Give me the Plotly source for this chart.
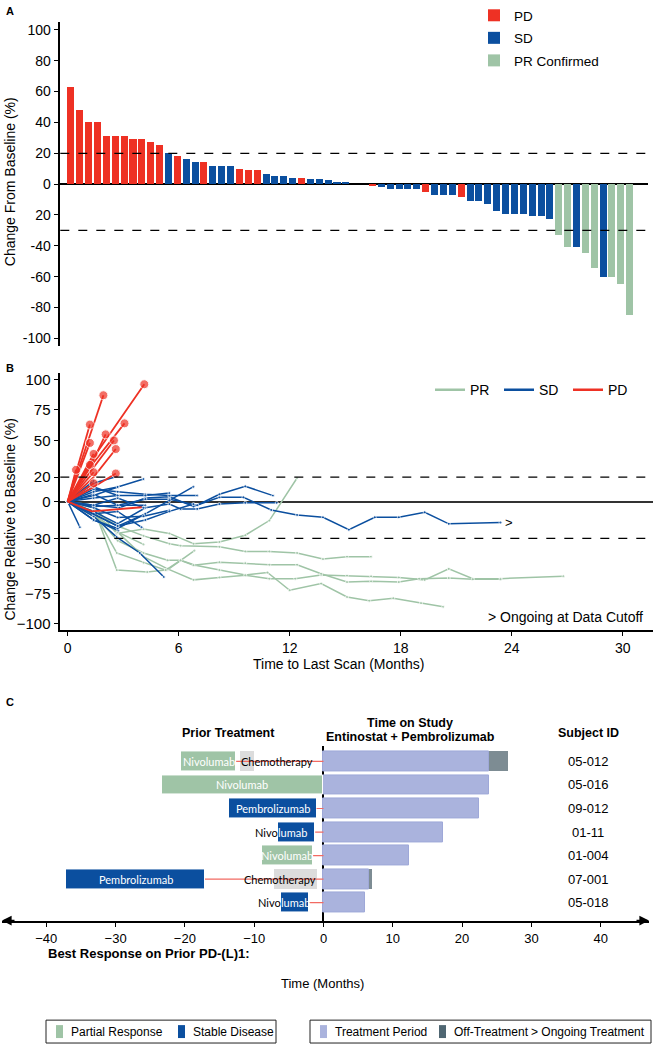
import plotly.graph_objects as go

W, H = 653, 1050

# ---------------- Panel A: waterfall of best change from baseline ----------------
waterfall_change = [63, 48, 40, 40, 31, 31, 31, 29, 29, 27, 25, 20, 18, 16.5, 14.5, 14.5,
                    11.5, 11.5, 11.5, 10, 9, 9, 6.5, 5, 5, 4, 4, 3, 3, 2.4, 1.5, 1, 0, 0,
                    -1.3, -2, -3.5, -3.5, -3.5, -3.5, -5.5, -7, -7, -7, -8.5, -11, -11, -13,
                    -17.5, -19.5, -19.5, -19.5, -21, -21, -22.5, -33, -41, -41, -45, -54.5,
                    -60, -60.5, -65, -85]
waterfall_response = ["PD", "PD", "PD", "PD", "PD", "PD", "PD", "PD", "PD", "PD", "PD",
                      "SD", "PD", "SD", "SD", "PD", "SD", "SD", "SD", "PD", "PD", "PD",
                      "SD", "SD", "SD", "SD", "PD", "SD", "SD", "SD", "SD", "SD", "SD", "SD",
                      "PD", "SD", "SD", "SD", "SD", "SD", "PD", "SD", "SD", "SD", "PD",
                      "SD", "SD", "SD", "SD", "SD", "SD", "SD", "SD", "SD", "SD",
                      "PR", "PR", "SD", "PR", "PR", "SD", "PR", "PR", "PR"]
waterfall_ticks = [100, 80, 60, 40, 20, 0, -20, -40, -60, -80, -100]
waterfall_ticktext = ["100", "80", "60", "40", "20", "0", "20", "-40", "-60", "-80", "-100"]
waterfall_thresholds = [20, -30]

# ---------------- Panel B: spider plot ----------------
pr_months = [
    [0, 1.4, 2.65, 4.1, 5.5, 6.8, 8.2, 9.6, 10.9, 12.4],
    [0, 1.4, 2.7, 4.1, 5.5, 6.1, 8.2, 9.6, 10.9, 12.4, 13.8, 15.1, 16.4],
    [0, 1.4, 2.65, 4.3, 5.4, 6.85],
    [0, 1.4, 2.7, 4.1, 5.4, 6.1, 6.9, 8.2, 9.6, 10.8, 12.0, 13.7, 15.1, 16.3, 17.6, 19.1, 20.3],
    [0, 1.4, 2.7, 4.1, 5.4, 6.8, 8.2, 9.6, 10.9, 12.3, 13.7, 15.1, 16.4, 17.9, 19.3, 20.6, 21.9, 23.4, 26.8],
    [0, 1.4, 2.65, 4.1, 5.3, 6.1, 6.8, 8.2, 9.6, 10.9, 12.4, 13.7, 15.1, 16.4, 17.9, 19.0, 20.6, 21.9, 23.4],
    [0, 0.7, 1.4, 2.7, 4.1],
]
pr_values = [
    [0, -3, -26, -22.5, -26, -34.5, -33, -27.5, -15.5, 19.3],
    [0, -8, -20, -28, -34.5, -36, -37, -40.7, -40.7, -42, -47, -45, -45],
    [0, -5, -56, -57.6, -55.7, -40],
    [0, -10, -32, -42, -48, -48, -52, -56, -60, -58, -72.5, -67, -78, -81, -79, -83, -86],
    [0, -12, -25, -45, -55, -64, -62, -60.3, -63, -63, -60, -60.5, -61, -62, -64, -55, -63, -63, -61],
    [0, -8, -42, -50, -56, -48, -52, -49.5, -50.3, -51.6, -51.6, -59, -65.8, -65.2, -65.8, -63, -62.5, -63.5, -63.5],
    [0, -3, -10, -25, -35],
]
sd_months = [
    [0, 1.4, 2.8, 4.2, 5.5, 6.8, 8.2, 9.5, 11.0, 12.4, 13.8, 15.2, 16.6, 17.9, 19.3, 20.6, 23.4],
    [0, 1.4, 2.7, 4.2, 5.5, 7.0, 8.2, 9.6, 11.1],
    [0, 1.4, 2.7, 4.2, 5.5, 6.1, 7.0, 8.2, 9.6, 11.3],
    [0, 1.4, 2.7, 4.2, 5.5, 7.0],
    [0, 1.4, 2.7, 4.2, 5.5, 6.8],
    [0, 1.4, 2.65, 3.9, 5.2],
    [0, 0.66],
    [0, 1.4, 2.74],
    [0, 1.4, 2.7, 4.0],
    [0, 1.4, 2.7, 4.1],
    [0, 1.4, 2.65],
    [0, 1.4, 2.7, 4.2, 5.5],
    [0, 1.4, 2.7, 4.2],
    [0, 1.4, 2.7, 4.2],
    [0, 1.4, 2.7],
    [0, 1.4, 2.7, 4.1, 5.5],
    [0, 1.4],
    [0, 1.4, 2.7, 4.1],
    [0, 2.7, 4.2, 5.5, 6.8],
    [0, 1.4, 2.7],
]
sd_values = [
    [0, -3, -5, 3, 4, -4, 3.5, 3.5, -6.8, -10.9, -12.8, -23, -12.8, -12.8, -8.7, -18.2, -17.1],
    [0, 6, -3, 2, 2, -3, 6, 12.5, 4.9],
    [0, -8, -18, -5, -2, -6, -6, -2, -1, -1],
    [0, 10, 8, 6, 5, 5],
    [0, -10, -20, -10, 1, 12.2],
    [0, -12, -29, -42, -61.7],
    [0, -21],
    [0, -15, -23.6],
    [0, -10, -8, -21],
    [0, 8, 12, 18.5],
    [0, 15, 20.6],
    [0, 3, 5, 5, 7],
    [0, -4, -3, -3],
    [0, -15, -22, -10],
    [0, 5, 12],
    [0, -5, -13, -12, -7],
    [0, 17],
    [0, -3, 3, -5],
    [0, -20, -15, -8, -2],
    [0, 12, 5],
]
pd_months = [
    [0, 1.35, 4.14], [0, 1.93], [0, 1.3, 3.07], [0, 1.2], [0, 1.2, 2.05], [0, 1.2],
    [0, 1.3, 2.5], [0, 1.4, 2.6], [0, 1.4], [0, 0.45], [0, 1.2], [0, 1.4],
    [0, 1.4, 2.6], [0, 1.3, 4.0], [0, 1.4],
]
pd_values = [
    [0, 35, 96], [0, 87], [0, 30, 64], [0, 63], [0, 28, 55], [0, 48],
    [0, 26, 50], [0, 20, 43], [0, 39], [0, 26], [0, 30], [0, 24],
    [0, 12, 23], [0, -8, -4.6], [0, 15],
]
spider_ticks_x = [0, 6, 12, 18, 24, 30]
spider_ticks_y = [100, 75, 50, 20, 0, -30, -50, -75, -100]
spider_thresholds = [20, -30]

# ---------------- Panel C: swimmer plot ----------------
subject_ids = ["05-012", "05-016", "09-012", "01-11", "01-004", "07-001", "05-018"]
prior_drug = ["Nivolumab", "Nivolumab", "Pembrolizumab", "Nivolumab", "Nivolumab", "Pembrolizumab", "Nivolumab"]
prior_response = ["PR", "PR", "SD", "SD", "PR", "SD", "SD"]
prior_start = [-20.5, -23.3, -13.7, -6.5, -8.9, -37.1, -6.1]
prior_end = [-12.6, -0.1, -1.0, -1.2, -1.5, -17.1, -2.1]
chemo_start = [-12.0, None, None, None, None, -7.1, None]
chemo_end = [-10.0, None, None, None, None, -1.0, None]
study_end = [23.9, 23.9, 22.4, 17.3, 12.4, 6.6, 6.0]
off_end = [26.6, None, None, None, None, 7.0, None]
swimmer_ticks = [-40, -30, -20, -10, 0, 10, 20, 30, 40]

RED = "#ee3124"
BLUE = "#0b4f9f"
GREEN = "#9fc4a6"
LAV = "#aab3dd"
OFF = "#7d8c93"
CHEMO = "#dcdcdc"
CONNECT = "#f26a62"
FONT = "Arial, Liberation Sans, sans-serif"
LABFONT = "Lato, Open Sans, sans-serif"


def px(x):
    return x / W


def py(y):
    return 1 - y / H


def pann(text, x, y, xa="center", ya="middle", size=13, **kw):
    d = dict(text=text, x=px(x), y=py(y), xref="paper", yref="paper", xanchor=xa, yanchor=ya,
             showarrow=False, font=dict(size=size, family=FONT, color="black"))
    d.update(kw)
    return d


fig = go.Figure()

# ---- Panel A bars ----
for key, name, color in [("PD", "PD", RED), ("SD", "SD", BLUE), ("PR", "PR Confirmed", GREEN)]:
    xs = [i + 1 for i, r in enumerate(waterfall_response) if r == key]
    ys = [waterfall_change[i - 1] for i in xs]
    fig.add_trace(go.Bar(x=xs, y=ys, marker=dict(color=color, line=dict(width=0)), width=0.79,
                         name=name, legend="legend", legendgroup=name, xaxis="x", yaxis="y"))

# ---- Panel B lines ----
groups = [("PR", GREEN, pr_months, pr_values), ("SD", BLUE, sd_months, sd_values), ("PD", RED, pd_months, pd_values)]
for name, color, months, values in groups:
    for mx, vy in zip(months, values):
        sizes = [3] * len(mx)
        width = 1.5
        if name == "PD":
            width = 1.8
            sizes = [0] * len(mx)
            if vy[-1] > 0:
                sizes[-1] = 9
        fig.add_trace(go.Scatter(x=mx, y=vy, mode="lines+markers", xaxis="x2", yaxis="y2",
                                 line=dict(color=color, width=width), marker=dict(color=color, size=sizes),
                                 showlegend=False, legend="legend2", hoverinfo="skip"))
for name, color, _, _ in groups:
    fig.add_trace(go.Scatter(x=[None], y=[None], mode="lines", line=dict(color=color, width=2.5),
                             name=name, legend="legend2", xaxis="x2", yaxis="y2", showlegend=True))

# ---- Panel C bars ----
fig.add_trace(go.Bar(orientation="h", y=subject_ids, x=study_end, base=[0] * len(subject_ids),
                     marker=dict(color=LAV, line=dict(color="#9ea8d8", width=1)), width=0.845,
                     xaxis="x3", yaxis="y3", showlegend=False, name="Treatment Period"))
off_rows = [i for i, v in enumerate(off_end) if v is not None]
fig.add_trace(go.Bar(orientation="h", y=[subject_ids[i] for i in off_rows],
                     x=[off_end[i] - study_end[i] for i in off_rows],
                     base=[study_end[i] for i in off_rows],
                     marker=dict(color=OFF, line=dict(width=0)), width=0.845,
                     xaxis="x3", yaxis="y3", showlegend=False, name="Off-Treatment"))
for key, color in [("PR", GREEN), ("SD", BLUE)]:
    rows = [i for i, r in enumerate(prior_response) if r == key]
    fig.add_trace(go.Bar(orientation="h", y=[subject_ids[i] for i in rows],
                         x=[prior_end[i] - prior_start[i] for i in rows],
                         base=[prior_start[i] for i in rows],
                         marker=dict(color=color, line=dict(color="white", width=1)), width=0.845,
                         xaxis="x3", yaxis="y3", showlegend=False))
chemo_rows = [i for i, v in enumerate(chemo_start) if v is not None]
fig.add_trace(go.Bar(orientation="h", y=[subject_ids[i] for i in chemo_rows],
                     x=[chemo_end[i] - chemo_start[i] for i in chemo_rows],
                     base=[chemo_start[i] for i in chemo_rows],
                     marker=dict(color=CHEMO, line=dict(width=0)), width=0.845,
                     xaxis="x3", yaxis="y3", showlegend=False, name="Chemotherapy"))
cx, cy = [], []
for i, sid in enumerate(subject_ids):
    if prior_end[i] < -0.5:
        cx += [prior_end[i], 0, None]
        cy += [sid, sid, None]
fig.add_trace(go.Scatter(x=cx, y=cy, mode="lines", line=dict(color=CONNECT, width=1.2),
                         xaxis="x3", yaxis="y3", showlegend=False, hoverinfo="skip"))

ann = []
# panel letters
for letter, y in [("A", 8), ("B", 367), ("C", 702)]:
    ann.append(pann("<b>" + letter + "</b>", 4, y, xa="left", size=11))
# axis titles
ann.append(pann("Change From Baseline (%)", 10, 180, size=14, textangle=-90))
ann.append(pann("Change Relative to Baseline (%)", 10, 519, size=14, textangle=-90))
ann.append(pann("Time to Last Scan (Months)", 338, 664, size=14))
ann.append(pann("> Ongoing at Data Cutoff", 645, 617, xa="right", size=14))
ann.append(dict(text=">", x=sd_months[0][-1], y=sd_values[0][-1], xref="x2", yref="y2", xanchor="left",
                yanchor="middle", xshift=2, showarrow=False, font=dict(size=13)))
# panel C headers
ann.append(pann("<b>Prior Treatment</b>", 228, 733, size=12.5))
ann.append(pann("<b>Time on Study</b>", 410, 723, size=12.5))
ann.append(pann("<b>Entinostat + Pembrolizumab</b>", 410, 738, size=12.5))
ann.append(pann("<b>Subject ID</b>", 588, 733, size=12.5))
ann.append(pann("<b>Best Response on Prior PD-(L)1:</b>", 46, 955, xa="left", size=13))
ann.append(pann("Time (Months)", 322, 985, size=13))
for i, sid in enumerate(subject_ids):
    ann.append(dict(text=sid, x=38.2, y=sid, xref="x3", yref="y3", xanchor="center", yanchor="middle",
                    showarrow=False, font=dict(size=13)))
    name = prior_drug[i]
    mid = (prior_start[i] + prior_end[i]) / 2
    if prior_end[i] - prior_start[i] < 6:
        ann.append(dict(text=name[:4], x=prior_start[i], y=sid, xref="x3", yref="y3", xanchor="right",
                        yanchor="middle", borderpad=0, xshift=1, showarrow=False,
                        font=dict(size=11, color="black", family=LABFONT)))
        ann.append(dict(text=name[4:], x=prior_start[i], y=sid, xref="x3", yref="y3", xanchor="left",
                        yanchor="middle", borderpad=0, xshift=-1, showarrow=False,
                        font=dict(size=11, color="white", family=LABFONT)))
    else:
        ann.append(dict(text=name, x=mid, y=sid, xref="x3", yref="y3", xanchor="center", yanchor="middle",
                        showarrow=False, font=dict(size=11, color="white", family=LABFONT)))
    if chemo_start[i] is not None:
        if chemo_end[i] > -2:
            ann.append(dict(text="Chemotherapy", x=chemo_end[i], y=sid, xref="x3", yref="y3", xanchor="right",
                            yanchor="middle", borderpad=0, showarrow=False,
                            font=dict(size=11, color="black", family=LABFONT)))
        else:
            ann.append(dict(text="Chemotherapy", x=chemo_start[i], y=sid, xref="x3", yref="y3", xanchor="left",
                            yanchor="middle", borderpad=0, showarrow=False,
                            font=dict(size=11, color="black", family=LABFONT)))
# axis arrows for panel C
ann.append(dict(text="", x=-46.39, y=0, xref="x3", yref="y3 domain", ax=14, ay=0, axref="pixel", ayref="pixel",
                showarrow=True, arrowhead=2, arrowsize=1.2, arrowwidth=1.6, arrowcolor="black"))
ann.append(dict(text="", x=46.97, y=0, xref="x3", yref="y3 domain", ax=-14, ay=0, axref="pixel", ayref="pixel",
                showarrow=True, arrowhead=2, arrowsize=1.2, arrowwidth=1.6, arrowcolor="black"))

shapes = []
for t in waterfall_thresholds:
    shapes.append(dict(type="line", xref="x domain", yref="y", x0=0, x1=1, y0=t, y1=t,
                       line=dict(color="black", width=1.3, dash="dash")))
for t in spider_thresholds:
    shapes.append(dict(type="line", xref="x2 domain", yref="y2", x0=0, x1=1, y0=t, y1=t,
                       line=dict(color="black", width=1.3, dash="dash")))

# bottom legends for panel C (drawn boxes)
box_y0, box_y1 = 1022, 1045
legend_items = [
    (46, 276, [(56, GREEN, "Partial Response"), (178, BLUE, "Stable Disease")]),
    (310, 651, [(320, LAV, "Treatment Period"), (439, "#4f6672", "Off-Treatment"), (None, None, "> Ongoing Treatment")]),
]
for x0, x1, items in legend_items:
    shapes.append(dict(type="rect", xref="paper", yref="paper", x0=px(x0), x1=px(x1), y0=py(box_y1), y1=py(box_y0),
                       line=dict(color="#222", width=1), fillcolor="rgba(0,0,0,0)"))
    for sx, col, label in items:
        if sx is not None:
            shapes.append(dict(type="rect", xref="paper", yref="paper", x0=px(sx), x1=px(sx + 7),
                               y0=py(1040), y1=py(1027), line=dict(width=0), fillcolor=col))
            tx = sx + 13
        else:
            tx = 529
        ann.append(pann(label, tx, 1033.5, xa="left", size=12))

axis_common = dict(showgrid=False, linecolor="black", tickcolor="black", ticks="outside")
fig.update_layout(
    width=W, height=H, margin=dict(l=0, r=0, t=0, b=0),
    paper_bgcolor="white", plot_bgcolor="rgba(0,0,0,0)",
    barmode="overlay", bargap=0,
    font=dict(family=FONT, size=13, color="black"),
    xaxis=dict(domain=[px(60.3), px(648)], range=[-0.23, 66.03], visible=False, anchor="y"),
    yaxis=dict(domain=[py(344.75), py(19.25)], range=[-105, 105], anchor="x", showline=True, linewidth=1.5,
               ticklen=5, tickvals=waterfall_ticks, ticktext=waterfall_ticktext, tickfont=dict(size=14),
               zeroline=True, zerolinecolor="black", zerolinewidth=1.5, **axis_common),
    xaxis2=dict(domain=[px(60.3), 1], range=[-0.4, 31.64], anchor="y2", showline=True, linewidth=1.5,
                ticklen=4, tickvals=spider_ticks_x, tickfont=dict(size=14), zeroline=False, **axis_common),
    yaxis2=dict(domain=[py(630), py(372)], range=[-105, 105], anchor="x2", showline=True, linewidth=1.5,
                ticklen=5, tickvals=spider_ticks_y, tickfont=dict(size=15), zeroline=True,
                zerolinecolor="#333", zerolinewidth=2, **axis_common),
    xaxis3=dict(domain=[px(2), px(649)], range=[-46.39, 46.97], anchor="y3", showline=True, linewidth=1.6,
                ticklen=5, tickvals=swimmer_ticks, tickfont=dict(size=13), zeroline=True,
                zerolinecolor="black", zerolinewidth=1.5, **axis_common),
    yaxis3=dict(domain=[py(922), py(747)], type="category", categoryorder="array", categoryarray=subject_ids,
                range=[6.76, -0.634], anchor="x3", visible=False),
    legend=dict(x=px(474), y=py(-3), xanchor="left", yanchor="top", bgcolor="rgba(0,0,0,0)",
                font=dict(size=13.5), tracegroupgap=2),
    legend2=dict(orientation="h", x=px(430), y=py(389), xanchor="left", yanchor="middle",
                 bgcolor="rgba(0,0,0,0)", font=dict(size=14), entrywidth=24, entrywidthmode="pixels"),
    annotations=ann, shapes=shapes,
)

fig.write_html("out.html", config={"displayModeBar": False},
               post_script="document.body.style.margin='0';document.body.style.overflow='hidden';")
